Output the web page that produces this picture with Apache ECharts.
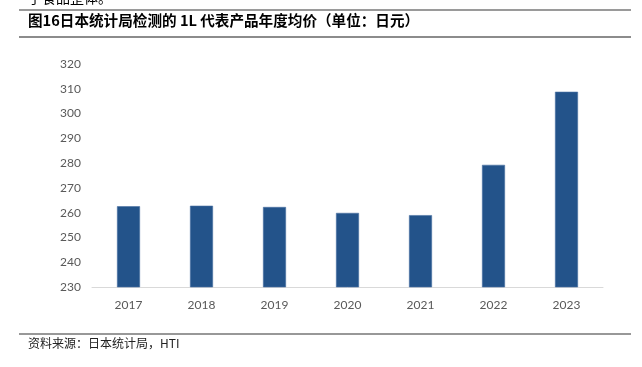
<!DOCTYPE html>
<html>
<head>
<meta charset="utf-8">
<script src="https://cdn.jsdelivr.net/npm/echarts@6/dist/echarts.min.js"></script>
<style>
html, body { margin: 0; padding: 0; background: #fff; }
#main { width: 642px; height: 367px; }
</style>
</head>
<body>
<div id="main"></div>
<script>
var years = ['2017', '2018', '2019', '2020', '2021', '2022', '2023'];
var prices = [262.6, 262.8, 262.3, 259.9, 259.0, 279.3, 308.8];
var yTicks = { min: 230, max: 320, interval: 10 };

var chart = echarts.init(document.getElementById('main'));
var cjk = '"Noto Sans CJK SC", sans-serif';
var option = {
    animation: false,
    grid: { left: 92, right: 39, top: 64, bottom: 80 },
    xAxis: {
        type: 'category',
        data: years,
        axisLine: { lineStyle: { color: '#d9d9d9', width: 1 } },
        axisTick: { show: false },
        axisLabel: { color: '#595959', fontSize: 12, fontFamily: 'Lato', margin: 12 }
    },
    yAxis: {
        type: 'value',
        min: yTicks.min,
        max: yTicks.max,
        interval: yTicks.interval,
        axisLine: { show: false },
        axisTick: { show: false },
        splitLine: { show: false },
        axisLabel: { color: '#595959', fontSize: 12, fontFamily: 'Lato', margin: 11 }
    },
    series: [{
        type: 'bar',
        data: prices,
        barWidth: 23,
        itemStyle: { color: '#23538a', borderColor: '#4a71a3', borderWidth: 0.6 }
    }],
    graphic: [
        { type: 'text', left: 28, top: -9, style: { text: '了食品整体。', fontSize: 14, fontFamily: cjk, fill: '#000' } },
        { type: 'line', shape: { x1: 19, y1: 10, x2: 631, y2: 10 }, style: { stroke: '#9a9a9a', lineWidth: 2 } },
        { type: 'text', left: 28, top: 13, style: { text: '图16日本统计局检测的 1L 代表产品年度均价（单位：日元）', fontSize: 14.6, fontWeight: 'bold', fontFamily: cjk, fill: '#000' } },
        { type: 'line', shape: { x1: 19, y1: 37, x2: 631, y2: 37 }, style: { stroke: '#1a1a1a', lineWidth: 1.2 } },
        { type: 'line', shape: { x1: 19, y1: 334, x2: 631, y2: 334 }, style: { stroke: '#333', lineWidth: 1.2 } },
        { type: 'text', left: 28, top: 337, style: { text: '资料来源：日本统计局，HTI', fontSize: 12, fontFamily: cjk, fill: '#222' } }
    ]
};
chart.setOption(option);
window.addEventListener('resize', function () { chart.resize(); });
</script>
</body>
</html>
